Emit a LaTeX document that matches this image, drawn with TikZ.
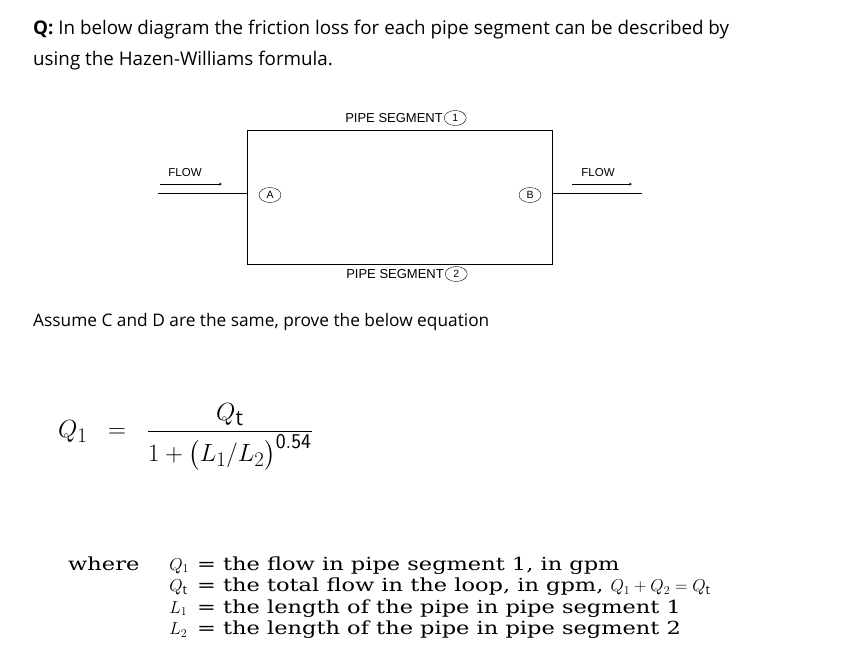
\documentclass[tikz,border=0pt]{standalone}
\usepackage{fontspec}
\setmainfont{Open Sans}
\newfontfamily\serifx[FakeStretch=1.25]{DejaVu Serif}
\newfontfamily\diag{Liberation Sans}
\usepackage{amsmath}
\usetikzlibrary{shapes.geometric,positioning}
\begin{document}
\begin{tikzpicture}[x=1pt,y=-1pt,
  lbl/.style={font=\diag\fontsize{11.5}{12}\selectfont, inner sep=0pt},
  plbl/.style={font=\diag\fontsize{13}{14}\selectfont, inner sep=0pt},
  circ/.style={draw, ellipse, minimum width=22pt, minimum height=15pt, inner sep=0pt, font=\diag\fontsize{10.5}{12}\selectfont},
  pipe/.style={line width=0.9pt},
  txt/.style={anchor=west, inner sep=0pt, font=\fontsize{17.3}{20}\selectfont}]
\useasboundingbox (0,0) rectangle (852,665);
\fill[white] (0,0) rectangle (852,665);
\node[txt, font=\fontsize{18.8}{20}\selectfont] (q1) at (33,30) {\textbf{Q:} In below diagram the friction loss for each pipe segment can be described by};
\node[txt, font=\fontsize{18.8}{20}\selectfont] (q2) at (33,61) {using the Hazen-Williams formula.};
% loop
\coordinate (tl) at (247,130); \coordinate (br) at (552,264);
\draw[pipe] (tl) rectangle (br);
\coordinate (in0) at (158,193); \coordinate (inA) at (247,193);
\coordinate (outB) at (552,193); \coordinate (out1) at (642,193);
\draw[pipe] (in0) -- (inA);
\draw[pipe] (outB) -- (out1);
\coordinate (fa0) at (160,184); \coordinate (fa1) at (222,184);
\coordinate (fb0) at (572,184); \coordinate (fb1) at (632,184);
\draw[-stealth, thin] (fa0) -- (fa1);
\draw[-stealth, thin] (fb0) -- (fb1);
\node[lbl] (fl1) at (185,173) {FLOW};
\node[lbl] (fl2) at (598,173) {FLOW};
\node[circ] (A) at (270,195) {A};
\node[circ] (B) at (530,195) {B};
\node[plbl, anchor=east] (ps1) at (443,118) {PIPE SEGMENT};
\node[circ, right=1pt of ps1] (c1) {1};
\node[plbl, anchor=east] (ps2) at (444,274) {PIPE SEGMENT};
\node[circ, right=1pt of ps2] (c2) {2};
\node[txt] (as) at (33,322) {Assume C and D are the same, prove the below equation};
% equation
\node[anchor=west, inner sep=0pt, font=\fontsize{30}{36}\selectfont] (eq) at (58,437)
  {$Q_1 \;\;=\;\; \dfrac{\;Q_{\mathrm t}\;}{1+\bigl(L_1/L_2\bigr)^{\mathsf{0.54}}}$};
% where block
\node[anchor=north west, inner sep=0pt, font=\serifx\fontsize{17}{21.5}\selectfont] (wh) at (68,555)
  {\fontsize{18}{21.5}\selectfont\begin{tabular}{@{}l@{\hspace{30pt}}l@{\hspace{8pt}}l@{}}
   where & $Q_1$ & = the flow in pipe segment 1, in gpm\\
   & $Q_{\mathrm t}$ & = the total flow in the loop, in gpm, $Q_1+Q_2=Q_{\mathrm t}$\\
   & $L_1$ & = the length of the pipe in pipe segment 1\\
   & $L_2$ & = the length of the pipe in pipe segment 2
  \end{tabular}};
\end{tikzpicture}
\end{document}
